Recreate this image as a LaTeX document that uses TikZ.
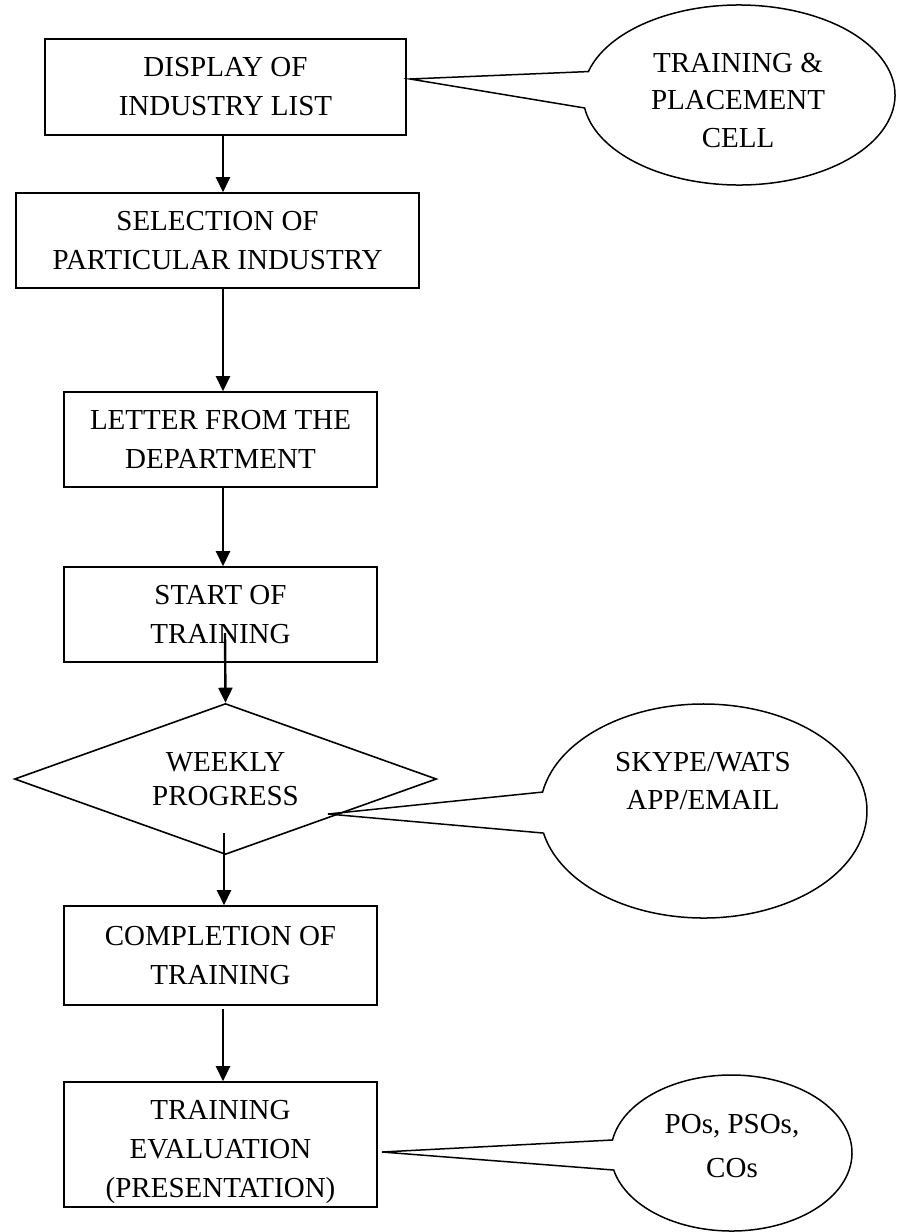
\documentclass[tikz,border=0pt]{standalone}
\usepackage{fontspec}
\setmainfont{Liberation Serif}
\usetikzlibrary{shapes.geometric,arrows.meta,calc}
\begin{document}
\begin{tikzpicture}[x=1pt,y=-1pt,
  every node/.style={font=\fontsize{29}{39}\selectfont, align=center, inner sep=0pt},
  stepbox/.style={draw, line width=1.6pt, rectangle},
  decision/.style={draw, line width=1.6pt, diamond, aspect=2.8},
  flow/.style={line width=2.4pt, -{Triangle[width=14pt,length=15pt]}},
  callout/.style={draw, line width=1.5pt, line join=miter}
]
\useasboundingbox (0,0) rectangle (899,1232);

% process boxes
\node[stepbox, minimum width=361pt, minimum height=96pt] (b1) at (225.5,87) {DISPLAY OF\\INDUSTRY LIST};
\node[stepbox, minimum width=403pt, minimum height=95pt] (b2) at (217.5,240.5) {SELECTION OF\\PARTICULAR INDUSTRY};
\node[stepbox, minimum width=313pt, minimum height=95pt] (b3) at (220.5,439.5) {LETTER FROM THE\\DEPARTMENT};
\node[stepbox, minimum width=313pt, minimum height=95pt] (b4) at (220.5,614.5) {START OF\\TRAINING};
\node[decision, minimum width=422pt, minimum height=151pt, font=\fontsize{29}{34}\selectfont] (wp) at (225.5,779) {WEEKLY\\PROGRESS};
\node[stepbox, minimum width=313pt, minimum height=99pt] (b5) at (220.5,955.5) {COMPLETION OF\\TRAINING};
\node[stepbox, minimum width=313pt, minimum height=125pt] (b6) at (220.5,1144.5) {};
\node (b6t) at ($(b6.center)+(0,7)$) {TRAINING\\EVALUATION\\(PRESENTATION)};

% flow arrows
\coordinate (ax) at (223,0);
\coordinate (s4) at (225,633);
\coordinate (s5) at (224,833);
\coordinate (s6) at (223,1009);
\draw[flow] (b1.south -| ax) -- (b2.north -| ax);
\draw[flow] (b2.south -| ax) -- (b3.north -| ax);
\draw[flow] (b3.south -| ax) -- (b4.north -| ax);
\draw[flow] (s4) -- (wp.north);
\draw[flow] (s5) -- (b5.north -| s5);
\draw[flow] (s6) -- (b6.north -| s6);

% callout: training & placement cell
\coordinate (e1) at (739,95);
\coordinate (t1) at (410,79);
\draw[callout] ($(e1)+(-171.7:156pt and 90pt)$) -- (t1) -- ($(e1)+(164.9:156pt and 90pt)$)
  arc[start angle=164.9, end angle=-171.7, x radius=156pt, y radius=90pt] -- cycle;
\node[font=\fontsize{29}{37.5}\selectfont] (tp) at (738,100) {TRAINING \&\\PLACEMENT\\CELL};

% callout: communication channels
\coordinate (e2) at (703.5,811);
\coordinate (t2) at (328,814);
\draw[callout] ($(e2)+(-168.1:163.5pt and 107pt)$) -- (t2) -- ($(e2)+(169.8:163.5pt and 107pt)$)
  arc[start angle=169.8, end angle=-168.1, x radius=163.5pt, y radius=107pt] -- cycle;
\node[font=\fontsize{29}{38}\selectfont] (sk) at (703,781) {SKYPE/WATS\\APP/EMAIL};

% callout: outcomes
\coordinate (e3) at (731.4,1153);
\coordinate (t3) at (382,1152);
\draw[callout] ($(e3)+(-167.4:120.6pt and 78pt)$) -- (t3) -- ($(e3)+(170.4:120.6pt and 78pt)$)
  arc[start angle=170.4, end angle=-167.4, x radius=120.6pt, y radius=78pt] -- cycle;
\node[font=\fontsize{29}{44}\selectfont] (po) at (732,1146) {POs, PSOs,\\COs};
\end{tikzpicture}
\end{document}
